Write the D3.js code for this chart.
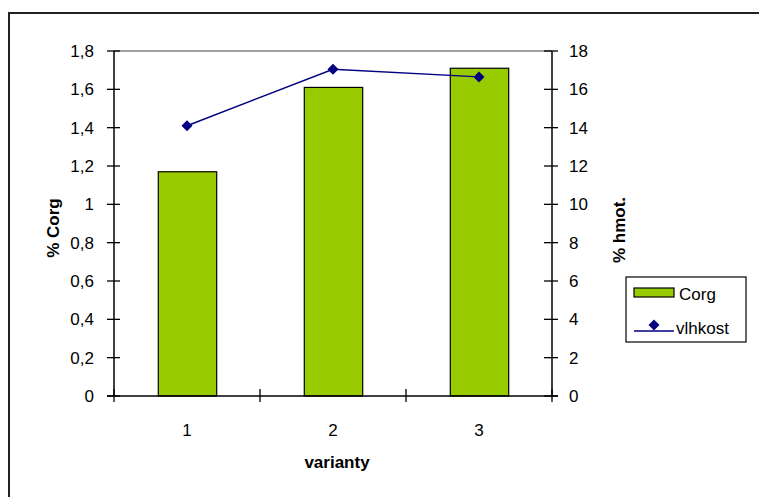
<!DOCTYPE html>
<html><head><meta charset="utf-8">
<script src="https://cdn.jsdelivr.net/npm/d3@7"></script>
<style>body{margin:0;background:#fff;}svg{display:block;font-family:"Liberation Sans",Arial,sans-serif;}</style>
</head><body>
<svg id="c" width="759" height="497"></svg>
<script>
const categories = ["1","2","3"];
const corg = [1.17, 1.61, 1.71];
const vlhkost = [14.1, 17.05, 16.65];
const leftTicks = [0,0.2,0.4,0.6,0.8,1,1.2,1.4,1.6,1.8];
const rightTicks = [0,2,4,6,8,10,12,14,16,18];

const svg = d3.select("#c");
const L = 114, R = 552, T = 51, B = 396;
const fs = 17;

// outer border
svg.append("rect").attr("x",9).attr("y",13).attr("width",800).attr("height",600)
  .attr("fill","none").attr("stroke","#222").attr("stroke-width",2);

const x = d3.scaleBand().domain(categories).range([L,R]).paddingInner(0).paddingOuter(0);
const yL = d3.scaleLinear().domain([0,1.8]).range([B,T]);
const yR = d3.scaleLinear().domain([0,18]).range([B,T]);

// plot area top border
svg.append("line").attr("x1",L).attr("x2",R).attr("y1",T).attr("y2",T).attr("stroke","#808080").attr("stroke-width",1.5);

// bars
const bw = x.bandwidth()*0.4;
svg.selectAll(".bar").data(categories).enter().append("rect")
  .attr("x",(d)=>x(d)+x.bandwidth()/2-bw/2+0.5)
  .attr("y",(d,i)=>yL(corg[i]))
  .attr("width",bw)
  .attr("height",(d,i)=>B-yL(corg[i]))
  .attr("fill","#99CC00").attr("stroke","#000").attr("stroke-width",1.2);

// left axis
const gl = svg.append("g");
gl.append("line").attr("x1",L).attr("x2",L).attr("y1",T).attr("y2",B).attr("stroke","#000").attr("stroke-width",1.5);
leftTicks.forEach(t=>{
  gl.append("line").attr("x1",L-7).attr("x2",L+6).attr("y1",yL(t)).attr("y2",yL(t)).attr("stroke","#000").attr("stroke-width",1.3);
  gl.append("text").attr("x",L-20).attr("y",yL(t)).attr("dy","0.36em").attr("text-anchor","end")
    .attr("font-size",fs).text(String(t).replace(".",","));
});
// right axis
const gr = svg.append("g");
gr.append("line").attr("x1",R).attr("x2",R).attr("y1",T).attr("y2",B).attr("stroke","#000").attr("stroke-width",1.5);
rightTicks.forEach(t=>{
  gr.append("line").attr("x1",R-8).attr("x2",R+6).attr("y1",yR(t)).attr("y2",yR(t)).attr("stroke","#000").attr("stroke-width",1.3);
  gr.append("text").attr("x",R+17).attr("y",yR(t)).attr("dy","0.36em").attr("text-anchor","start")
    .attr("font-size",fs).text(t);
});
// bottom axis
const gb = svg.append("g");
gb.append("line").attr("x1",L-7).attr("x2",R+6).attr("y1",B).attr("y2",B).attr("stroke","#000").attr("stroke-width",1.5);
[L, ...categories.slice(1).map(c=>x(c)), R].forEach(px=>{
  gb.append("line").attr("x1",px).attr("x2",px).attr("y1",B-7).attr("y2",B+6).attr("stroke","#000").attr("stroke-width",1.3);
});
categories.forEach(c=>{
  gb.append("text").attr("x",x(c)+x.bandwidth()/2).attr("y",436).attr("text-anchor","middle").attr("font-size",fs).text(c);
});

// titles
svg.append("text").attr("x",337).attr("y",468).attr("text-anchor","middle").attr("font-size",fs).attr("font-weight","bold").text("varianty");
svg.append("text").attr("transform","translate(59,228) rotate(-90)").attr("text-anchor","middle").attr("font-size",fs).attr("font-weight","bold").text("% Corg");
svg.append("text").attr("transform","translate(625,230) rotate(-90)").attr("text-anchor","middle").attr("font-size",fs).attr("font-weight","bold").text("% hmot.");

// line series
const cx = (i)=>x(categories[i])+x.bandwidth()/2;
const line = d3.line().x((d,i)=>cx(i)).y(d=>yR(d));
svg.append("path").datum(vlhkost).attr("d",line).attr("fill","none").attr("stroke","#000080").attr("stroke-width",1.5);
const dia = "M0,-5.5L5.5,0L0,5.5L-5.5,0Z";
svg.selectAll(".pt").data(vlhkost).enter().append("path")
  .attr("d",dia)
  .attr("transform",(d,i)=>`translate(${cx(i)},${yR(d)})`)
  .attr("fill","#000080");

// legend
const lg = svg.append("g");
lg.append("rect").attr("x",626).attr("y",277).attr("width",120).attr("height",65).attr("fill","#fff").attr("stroke","#000").attr("stroke-width",1.2);
lg.append("rect").attr("x",634).attr("y",288).attr("width",40).attr("height",9).attr("fill","#99CC00").attr("stroke","#000").attr("stroke-width",1.2);
lg.append("text").attr("x",679).attr("y",294).attr("dy","0.36em").attr("font-size",fs).text("Corg");
lg.append("line").attr("x1",634).attr("x2",674).attr("y1",331).attr("y2",331).attr("stroke","#000080").attr("stroke-width",1.5);
lg.append("path").attr("d",dia).attr("transform","translate(654,325)").attr("fill","#000080");
lg.append("text").attr("x",676).attr("y",328).attr("dy","0.36em").attr("font-size",fs).text("vlhkost");
</script>
</body></html>
